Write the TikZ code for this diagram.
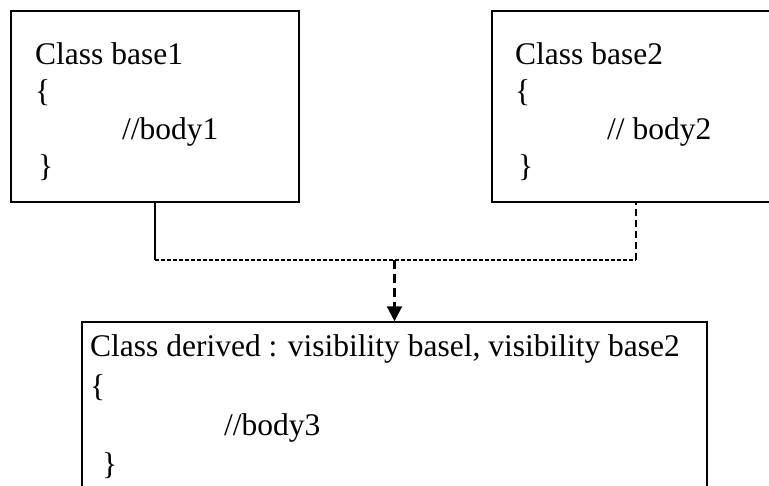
\documentclass[tikz,border=0pt]{standalone}
\usepackage{fontspec}
\setmainfont{Liberation Serif}
\usetikzlibrary{arrows.meta}
\begin{document}
\begin{tikzpicture}[x=1pt,y=-1pt,
  box/.style={draw=black, line width=1.8pt, rectangle, inner sep=0pt},
  txt/.style={anchor=base west, inner sep=0pt, font=\fontsize{31.5}{37.5}\selectfont},
  solidline/.style={line width=1.5pt},
  finedash/.style={line width=1.4pt, dash pattern=on 4pt off 2pt},
  bigdash/.style={line width=2.2pt, dash pattern=on 7pt off 4pt},
  arrowdash/.style={line width=2.2pt, dash pattern=on 9pt off 5pt, -{Triangle[width=15pt,length=15pt]}}
]
\useasboundingbox (0,0) rectangle (769,485);
\node[box, minimum width=288pt, minimum height=191pt] (b1) at (155,106.5) {};
\node[box, minimum width=288pt, minimum height=191pt] (b2) at (636,106.5) {};
\node[box, line width=1.5pt, minimum width=625pt, minimum height=180pt] (b3) at (394.5,412) {};
% texts box 1
\node[txt] (t11) at (35,64) {Class base1};
\node[txt] (t12) at (35,101.5) {\{};
\node[txt] (t13) at (122,139) {//body1};
\node[txt] (t14) at (38,176.5) {\}};
% texts box 2
\node[txt] (t21) at (515,64) {Class base2};
\node[txt] (t22) at (515,101.5) {\{};
\node[txt] (t23) at (607,139) {// body2};
\node[txt] (t24) at (518,176.5) {\}};
% texts box 3
\node[txt] (t31) at (90,356) {Class derived : visibility basel, visibility base2};
\node[txt] (t32) at (90,396) {\{};
\node[txt] (t33) at (224,435) {//body3};
\node[txt] (t34) at (102,474) {\}};
% connectors
\coordinate (m) at (394.5,260);
\draw[solidline] (b1.south) -- (b1.south |- m);
\draw[finedash] (b1.south |- m) -- (b2.south |- m);
\draw[bigdash] (b2.south |- m) -- (b2.south);
\draw[arrowdash] (m) -- (b3.north);
\end{tikzpicture}
\end{document}
